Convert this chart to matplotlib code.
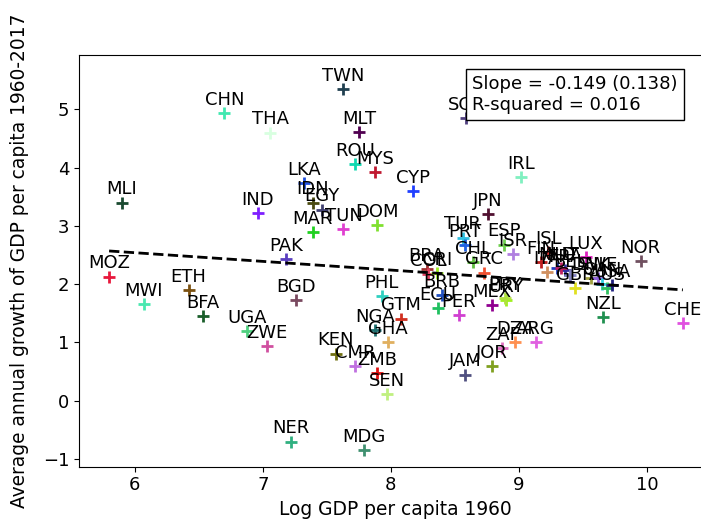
import numpy as np
import matplotlib
matplotlib.use('Agg')
import matplotlib.pyplot as plt

# country codes, log GDP per capita 1960, average growth 1960-2017
codes = ['MOZ', 'MLI', 'MWI', 'ETH', 'BFA', 'CHN', 'UGA', 'IND', 'ZWE', 'THA',
         'PAK', 'NER', 'BGD', 'LKA', 'IDN', 'MAR', 'EGY', 'KEN', 'TWN', 'TUN',
         'CMR', 'ROU', 'MLT', 'MDG', 'MYS', 'NGA', 'ZMB', 'DOM', 'PHL', 'SEN',
         'GHA', 'GTM', 'CYP', 'BRA', 'COL', 'CRI', 'ECU', 'BRB', 'PER', 'TUR',
         'JAM', 'PRT', 'SGP', 'CHL', 'GRC', 'JPN', 'MEX', 'JOR', 'ZAF', 'ESP',
         'URY', 'PRY', 'ISR', 'DZA', 'IRL', 'ARG', 'FIN', 'ISL', 'ITA', 'NLD',
         'FRA', 'AUT', 'GBR', 'LUX', 'BEL', 'DNK', 'SWE', 'CAN', 'AUS', 'USA',
         'NZL', 'NOR', 'CHE']
log_gdp = [5.80, 5.90, 6.07, 6.42, 6.53, 6.70, 6.88, 6.96, 7.03, 7.06,
           7.18, 7.22, 7.26, 7.32, 7.39, 7.39, 7.46, 7.57, 7.63, 7.63,
           7.72, 7.72, 7.75, 7.79, 7.88, 7.88, 7.89, 7.89, 7.93, 7.97,
           7.98, 8.08, 8.17, 8.28, 8.29, 8.36, 8.37, 8.40, 8.53, 8.56,
           8.58, 8.58, 8.59, 8.64, 8.73, 8.76, 8.79, 8.79, 8.87, 8.88,
           8.90, 8.89, 8.95, 8.97, 9.02, 9.13, 9.17, 9.23, 9.22, 9.30,
           9.36, 9.33, 9.44, 9.52, 9.40, 9.56, 9.62, 9.65, 9.69, 9.73,
           9.66, 9.95, 10.28]
growth = [2.13, 3.40, 1.66, 1.90, 1.45, 4.93, 1.20, 3.22, 0.94, 4.60,
          2.43, -0.70, 1.73, 3.74, 3.40, 2.89, 3.28, 0.81, 5.34, 2.94,
          0.60, 4.06, 4.61, -0.84, 3.92, 1.21, 0.48, 3.01, 1.80, 0.12,
          1.00, 1.41, 3.60, 2.26, 2.17, 2.19, 1.59, 1.81, 1.47, 2.80,
          0.45, 2.67, 4.85, 2.38, 2.20, 3.20, 1.64, 0.60, 0.91, 2.68,
          1.73, 1.76, 2.52, 1.01, 3.84, 1.01, 2.38, 2.55, 2.21, 2.27,
          2.24, 2.27, 1.94, 2.46, 2.15, 2.10, 2.10, 2.01, 1.93, 1.98,
          1.44, 2.40, 1.33]
colors = ['#e8183c', '#1a4a30', '#4ae8b0', '#7a5010', '#1a5e2a', '#40e8b0', '#50d080', '#7f1fff', '#d050a0', '#d8ffe0',
          '#5b3fc0', '#30b080', '#7a4a60', '#2050e0', '#4a4a10', '#20d020', '#404070', '#707010', '#204050', '#e040d0',
          '#c070e0', '#10d8b0', '#500050', '#409070', '#c01830', '#207070', '#e01010', '#80e030', '#30d0c0', '#c0f080',
          '#e0b060', '#d03020', '#2040ff', '#a03030', '#e04060', '#a0f020', '#20c060', '#2050c0', '#d040d0', '#30c0e0',
          '#505080', '#2060e0', '#504080', '#60c040', '#f05030', '#501030', '#900090', '#80a020', '#e070c0', '#70d050',
          '#a0f020', '#b0e040', '#b080e0', '#ff9050', '#80f0c0', '#e060e0', '#c02020', '#e03030', '#d09060', '#2040c0',
          '#3030a0', '#c02060', '#e0e020', '#e020c0', '#8080c0', '#a0a040', '#9060e0', '#30d0e0', '#30c060', '#202080',
          '#209050', '#705060', '#e050e0']

slope = -0.149
slope_se = 0.138
intercept = 3.434
r_squared = 0.016

plt.rcParams['font.size'] = 13

fig = plt.figure(figsize=(7.01, 5.24), dpi=100)
ax = fig.add_axes([0.1127, 0.1094, 0.9016, 0.785])

for c, x, y, col in zip(codes, log_gdp, growth, colors):
    ax.plot(x, y, marker='+', color=col, markersize=9, mew=2, linestyle='none')
    ax.annotate(c, (x, y), xytext=(0, 3), textcoords='offset points',
                ha='center', va='bottom', fontsize=13)

xs = np.array([min(log_gdp), max(log_gdp)])
ax.plot(xs, intercept + slope * xs, 'k--', linewidth=2)

ax.text(0.622, 0.952, 'Slope = %.3f (%.3f)\nR-squared = %.3f' % (slope, slope_se, r_squared),
        transform=ax.transAxes, ha='left', va='top', fontsize=13,
        bbox=dict(boxstyle='square,pad=0.35', fc='white', ec='black'))

ax.set_xlim(5.565, 10.5)
ax.set_ylim(-1.13, 5.925)
ax.set_xticks([6, 7, 8, 9, 10])
ax.set_xlabel('Log GDP per capita 1960', fontsize=13.4)
ax.set_ylabel('Average annual growth of GDP per capita 1960-2017', fontsize=13.4, labelpad=10)

fig.savefig('out.png', dpi=100)
